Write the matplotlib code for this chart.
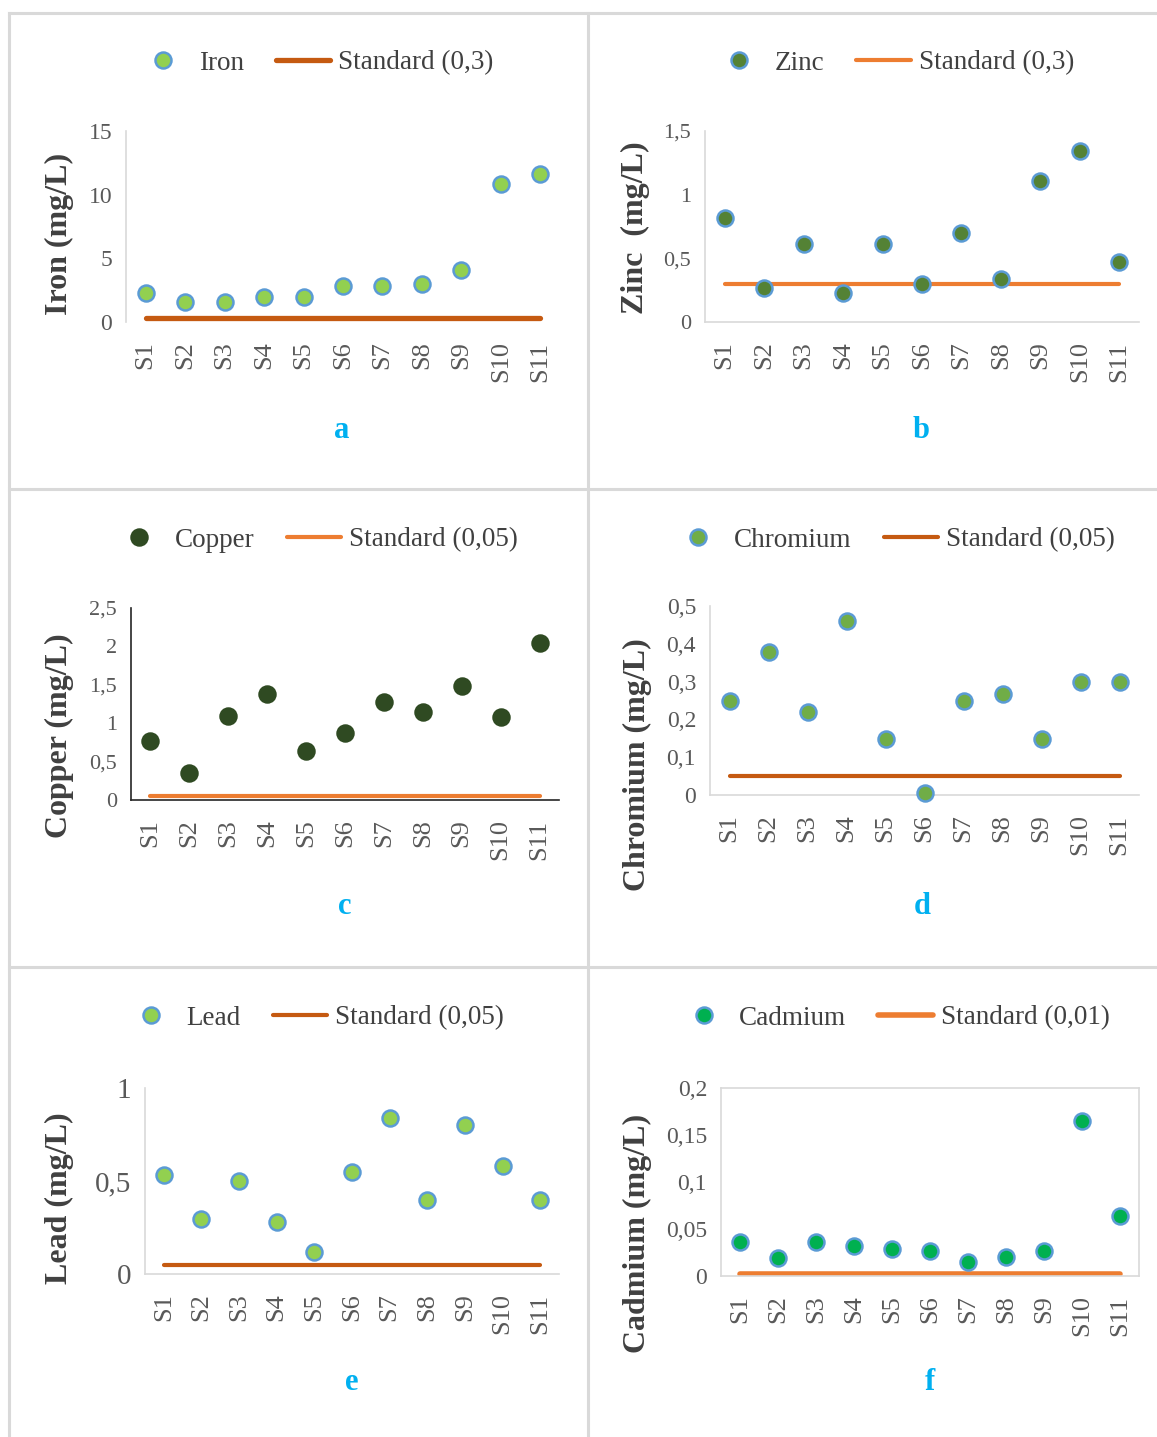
"""Heavy-metal concentrations per sampling site (S1-S11) against the standard limits, six panels."""
import matplotlib
matplotlib.use("Agg")
import matplotlib.pyplot as plt
from matplotlib.lines import Line2D
from matplotlib.ticker import FuncFormatter, MultipleLocator

plt.rcParams.update({"font.family": "Liberation Serif", "axes.linewidth": 1.2})

W, H = 1157, 1437

# --- data ------------------------------------------------------------------------------------
samples = ["S1", "S2", "S3", "S4", "S5", "S6", "S7", "S8", "S9", "S10", "S11"]
iron = [2.3, 1.55, 1.55, 1.95, 1.95, 2.85, 2.85, 2.98, 4.1, 10.85, 11.6]
zinc = [0.82, 0.27, 0.61, 0.23, 0.61, 0.30, 0.70, 0.34, 1.11, 1.34, 0.47]
copper = [0.77, 0.35, 1.09, 1.38, 0.64, 0.87, 1.27, 1.14, 1.49, 1.08, 2.05]
chromium = [0.25, 0.378, 0.22, 0.46, 0.147, 0.005, 0.25, 0.267, 0.147, 0.30, 0.30]
lead = [0.53, 0.295, 0.50, 0.28, 0.12, 0.55, 0.84, 0.40, 0.80, 0.58, 0.40]
cadmium = [0.036, 0.019, 0.036, 0.032, 0.029, 0.027, 0.015, 0.020, 0.027, 0.165, 0.064]

standard = {"Iron": 0.3, "Zinc": 0.3, "Copper": 0.05, "Chromium": 0.05, "Lead": 0.05, "Cadmium": 0.002}
std_label = {"Iron": "Standard (0,3)", "Zinc": "Standard (0,3)", "Copper": "Standard (0,05)",
             "Chromium": "Standard (0,05)", "Lead": "Standard (0,05)", "Cadmium": "Standard (0,01)"}

DARK_OR, LIGHT_OR, BLUE_EDGE = "#C55A11", "#ED7D31", "#5B9BD5"

# name, values, letter, ylabel, ymax, ystep, box (px: left, top, right, bottom), marker face, edge,
# line colour, line width, ytick size, spines style, ylabel centre (x px, y px), legend centre x px
panels = [
    ("Iron", iron, "a", "Iron (mg/L)", 15, 5, (126, 131, 560, 322), "#92D050", BLUE_EDGE,
     DARK_OR, 3.8, 17, "left", (60, 234), 315),
    ("Zinc", zinc, "b", "Zinc  (mg/L)", 1.5, 0.5, (705, 131, 1139, 322), "#548235", BLUE_EDGE,
     LIGHT_OR, 3.0, 16, "lb", (636, 228), 893),
    ("Copper", copper, "c", "Copper (mg/L)", 2.5, 0.5, (131, 608, 559, 800), "#2F4A22", "#2F4A22",
     LIGHT_OR, 3.0, 16, "black", (60, 736), 315),
    ("Chromium", chromium, "d", "Chromium (mg/L)", 0.5, 0.1, (710, 606, 1139, 795), "#70AD47", BLUE_EDGE,
     DARK_OR, 3.0, 17, "lb", (638, 765), 893),
    ("Lead", lead, "e", "Lead (mg/L)", 1, 0.5, (145, 1088, 559, 1274), "#92D050", BLUE_EDGE,
     DARK_OR, 3.0, 21, "lb", (60, 1198), 314),
    ("Cadmium", cadmium, "f", "Cadmium (mg/L)", 0.2, 0.05, (721, 1088, 1139, 1276), "#00B050", BLUE_EDGE,
     LIGHT_OR, 4.0, 17, "box", (638, 1233), 893),
]
legend_y = [63, 63, 540, 540, 1018, 1018]
letter_y = [430, 430, 907, 907, 1382, 1382]
letter_x = [342, 921, 345, 922, 352, 930]

comma = FuncFormatter(lambda v, _: ("%g" % round(v, 4)).replace(".", ","))

fig = plt.figure(figsize=(W / 100, H / 100), dpi=100)
fig.patch.set_facecolor("white")

# panel frame lines
GRID = "#D9D9D9"
for xs, ys in [((9, W), (13, 13)), ((9, 9), (13, H)), ((588, 588), (13, H)),
               ((9, W), (489, 489)), ((9, W), (967, 967))]:
    fig.add_artist(Line2D([x / W for x in xs], [1 - y / H for y in ys], color=GRID, lw=2.2,
                          transform=fig.transFigure))

x = list(range(len(samples)))
for i, (name, vals, letter, ylab, ymax, ystep, box, face, edge, lcol, lw, ytsize, sp,
        ylpos, legx) in enumerate(panels):
    l, t, r, b = box
    ax = fig.add_axes([l / W, 1 - b / H, (r - l) / W, (b - t) / H])
    ax.plot(x, vals, "o", ls="none", ms=11.5, mfc=face, mec=edge, mew=1.8, label=name,
            zorder=3, clip_on=False)
    ax.plot(x, [standard[name]] * len(x), "-", color=lcol, lw=lw, solid_capstyle="round",
            label=std_label[name], zorder=2)
    ax.set_xlim(-0.5, len(x) - 0.5)
    ax.set_ylim(0, ymax)
    ax.yaxis.set_major_locator(MultipleLocator(ystep))
    ax.yaxis.set_major_formatter(comma)
    ax.set_xticks(x)
    ax.set_xticklabels(samples, rotation=90, fontsize=19, color="#595959")
    ax.tick_params(axis="x", length=0, pad=14)
    ax.tick_params(axis="y", length=0, pad=10, labelsize=ytsize, labelcolor="#595959")
    for s in ax.spines.values():
        s.set_color(GRID)
        s.set_visible(False)
    if sp == "left":
        ax.spines["left"].set_visible(True)
    elif sp in ("lb", "black"):
        ax.spines["left"].set_visible(True)
        ax.spines["bottom"].set_visible(True)
        if sp == "black":
            ax.spines["left"].set_color("#262626")
            ax.spines["bottom"].set_color("#262626")
    else:
        for s in ax.spines.values():
            s.set_visible(True)
    ax.set_ylabel(ylab, fontsize=23, fontweight="bold", color="#404040")
    # label coords give the right edge of the rotated text, so shift by half its width
    ax.yaxis.set_label_coords((ylpos[0] + 14 - l) / (r - l), (b - ylpos[1]) / (b - t))
    ax.legend(loc="center", bbox_to_anchor=(legx / W, 1 - legend_y[i] / H),
              bbox_transform=fig.transFigure, ncol=2, frameon=False, fontsize=19.5,
              handlelength=2.0, handletextpad=0.3, columnspacing=1.2, labelcolor="#404040")
    fig.text(letter_x[i] / W, 1 - letter_y[i] / H, letter, ha="center", va="center",
             fontsize=22, fontweight="bold", color="#00B0F0")

fig.savefig("out.png", dpi=100)
